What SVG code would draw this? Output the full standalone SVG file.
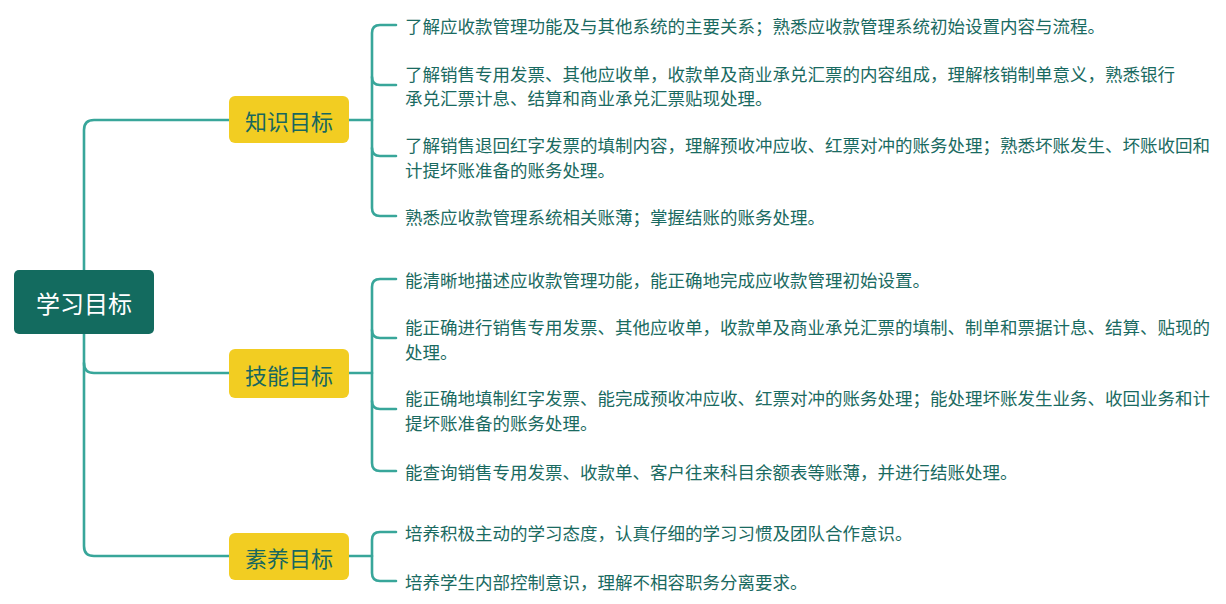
<svg xmlns="http://www.w3.org/2000/svg" width="1226" height="604" viewBox="0 0 1226 604">
<style>
.ln{fill:none;stroke:#38a69a;stroke-width:2.6;stroke-linecap:round}
.root{fill:#136b5f}
.sub{fill:#f2cd22}
.rt{font-family:"Microsoft YaHei","Noto Sans CJK SC",sans-serif;font-size:24px;fill:#ffffff;text-anchor:middle;dominant-baseline:central}
.st{font-family:"Microsoft YaHei","Noto Sans CJK SC",sans-serif;font-size:22px;fill:#17675f;text-anchor:middle;dominant-baseline:central}
.it{font-family:"Microsoft YaHei","Noto Sans CJK SC",sans-serif;font-size:17.5px;fill:#1a6a61;dominant-baseline:central}
</style>
<rect width="1226" height="604" fill="#ffffff"/>
<g id="connectors">
<path class="ln" d="M229,120 H94 Q84,120 84,130 V546 Q84,556 94,556 H229"/>
<path class="ln" d="M84,363 Q84,373 94,373 H229"/>
<path class="ln" d="M349,120 H372"/>
<path class="ln" d="M396,25 H380 Q372,25 372,33 V208 Q372,216 380,216 H396"/>
<path class="ln" d="M372,77 Q372,85 380,85 H396"/>
<path class="ln" d="M372,148 Q372,156 380,156 H396"/>
<path class="ln" d="M349,373 H372"/>
<path class="ln" d="M396,279 H380 Q372,279 372,287 V463 Q372,471 380,471 H396"/>
<path class="ln" d="M372,330 Q372,338 380,338 H396"/>
<path class="ln" d="M372,401 Q372,409 380,409 H396"/>
<path class="ln" d="M349,556 H372"/>
<path class="ln" d="M396,532 H380 Q372,532 372,540 V573 Q372,581 380,581 H396"/>
</g>
<g id="root">
<rect class="root" x="14" y="270" width="140" height="64" rx="5"/>
<text class="rt" x="84" y="302">学习目标</text>
</g>
<g id="knowledge">
<rect class="sub" x="229" y="96" width="120" height="47" rx="6"/>
<text class="st" x="289" y="119.5">知识目标</text>
</g>
<g id="skill">
<rect class="sub" x="229" y="349" width="120" height="49" rx="6"/>
<text class="st" x="289" y="373.5">技能目标</text>
</g>
<g id="quality">
<rect class="sub" x="229" y="533" width="120" height="47" rx="6"/>
<text class="st" x="289" y="556.5">素养目标</text>
</g>
<g id="k1"><text class="it" x="405" y="25">了解应收款管理功能及与其他系统的主要关系；熟悉应收款管理系统初始设置内容与流程。</text></g>
<g id="k2"><text class="it" x="405" y="73">了解销售专用发票、其他应收单，收款单及商业承兑汇票的内容组成，理解核销制单意义，熟悉银行</text><text class="it" x="405" y="97">承兑汇票计息、结算和商业承兑汇票贴现处理。</text></g>
<g id="k3"><text class="it" x="405" y="144">了解销售退回红字发票的填制内容，理解预收冲应收、红票对冲的账务处理；熟悉坏账发生、坏账收回和</text><text class="it" x="405" y="169">计提坏账准备的账务处理。</text></g>
<g id="k4"><text class="it" x="405" y="216">熟悉应收款管理系统相关账薄；掌握结账的账务处理。</text></g>
<g id="s1"><text class="it" x="405" y="279">能清晰地描述应收款管理功能，能正确地完成应收款管理初始设置。</text></g>
<g id="s2"><text class="it" x="405" y="326">能正确进行销售专用发票、其他应收单，收款单及商业承兑汇票的填制、制单和票据计息、结算、贴现的</text><text class="it" x="405" y="351">处理。</text></g>
<g id="s3"><text class="it" x="405" y="397">能正确地填制红字发票、能完成预收冲应收、红票对冲的账务处理；能处理坏账发生业务、收回业务和计</text><text class="it" x="405" y="422">提坏账准备的账务处理。</text></g>
<g id="s4"><text class="it" x="405" y="471">能查询销售专用发票、收款单、客户往来科目余额表等账薄，并进行结账处理。</text></g>
<g id="q1"><text class="it" x="405" y="532">培养积极主动的学习态度，认真仔细的学习习惯及团队合作意识。</text></g>
<g id="q2"><text class="it" x="405" y="581">培养学生内部控制意识，理解不相容职务分离要求。</text></g>
</svg>
